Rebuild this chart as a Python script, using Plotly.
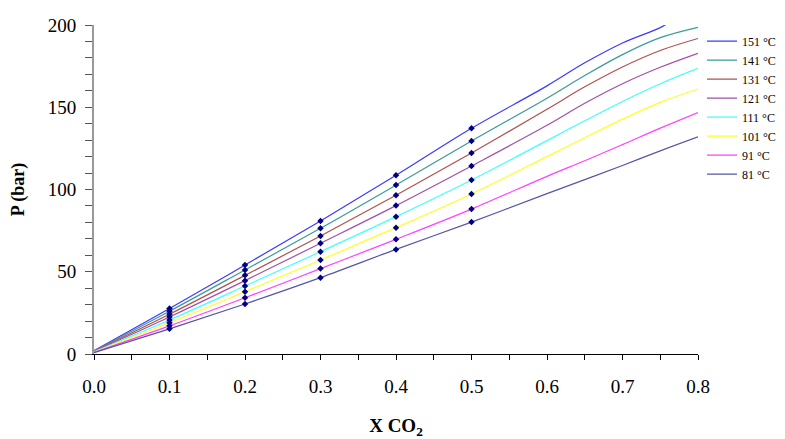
import plotly.graph_objects as go

x_line = [0.0, 0.1, 0.2, 0.3, 0.4, 0.5, 0.6, 0.65, 0.7, 0.75, 0.8]
x_line_151 = [0.0, 0.1, 0.2, 0.3, 0.4, 0.5, 0.6, 0.65, 0.7, 0.75, 0.763]

series_names = ["151 °C", "141 °C", "131 °C", "121 °C", "111 °C", "101 °C", "91 °C", "81 °C"]
series_colors = ["#3a3aff", "#3a9a9a", "#b05050", "#a050a8", "#40ffff", "#ffff20", "#ff40ff", "#5555a5"]

p_151 = [2.0, 27.6, 54.1, 80.9, 108.6, 137.2, 163.0, 177.0, 189.1, 198.4, 202.0]
p_141 = [1.9, 26.0, 51.1, 76.4, 102.7, 129.5, 155.5, 169.3, 182.0, 192.3, 198.6]
p_131 = [1.8, 24.2, 47.8, 71.7, 96.5, 122.2, 148.8, 162.4, 174.5, 184.5, 191.8]
p_121 = [1.6, 22.5, 44.6, 67.3, 90.2, 114.3, 139.0, 152.4, 164.3, 174.3, 182.8]
p_111 = [1.4, 20.7, 41.3, 62.2, 83.5, 105.8, 129.7, 141.8, 153.5, 164.3, 173.6]
p_101 = [1.2, 19.0, 37.9, 57.1, 76.8, 97.3, 120.0, 131.5, 142.8, 153.0, 161.1]
p_91 = [1.0, 17.1, 34.2, 51.9, 69.7, 88.1, 108.0, 117.5, 127.3, 137.3, 146.8]
p_81 = [0.8, 15.3, 30.4, 46.4, 63.6, 80.2, 97.5, 106.0, 114.6, 123.5, 132.0]

x_pts = [0.1, 0.2, 0.3, 0.4, 0.5]

series_values = [p_151, p_141, p_131, p_121, p_111, p_101, p_91, p_81]
series_x = [x_line_151] + [x_line] * 7

fig = go.Figure()
for name, color, xs, ys in zip(series_names, series_colors, series_x, series_values):
    fig.add_trace(go.Scatter(x=xs, y=ys, mode="lines", name=name,
                             line=dict(color=color, width=1.2, shape="spline", smoothing=1.0)))

# measured points (values at x = 0.1 ... 0.5 of each series)
for ys in series_values:
    fig.add_trace(go.Scatter(x=x_pts, y=ys[1:6], mode="markers", showlegend=False,
                             marker=dict(symbol="diamond", size=5, color="#000080"),
                             hoverinfo="skip"))

font_family = "Liberation Serif"
fig.update_layout(
    width=777, height=431,
    margin=dict(l=86, r=87, t=17, b=85, autoexpand=False),
    paper_bgcolor="white", plot_bgcolor="white",
    font=dict(family=font_family, size=19, color="black"),
    showlegend=True,
    legend=dict(x=1.0066, y=0.995, xanchor="left", yanchor="top",
                font=dict(family=font_family, size=12, color="black"),
                bgcolor="rgba(0,0,0,0)", tracegroupgap=0, itemwidth=30),
    xaxis=dict(range=[0, 0.8], dtick=0.1, tick0=0, tickformat=".1f",
               showgrid=False, zeroline=False, showline=True, linecolor="black", linewidth=1,
               ticks="outside", ticklen=5, tickcolor="black",
               minor=dict(dtick=0.05, ticks="outside", ticklen=5, tickcolor="black"),
               ticklabelstandoff=10,
               title=dict(text="<b>X CO<sub>2</sub></b>", font=dict(family=font_family, size=19), standoff=24)),
    yaxis=dict(range=[0, 200], dtick=50, tick0=0,
               showgrid=False, zeroline=False, showline=True, linecolor="#999999", linewidth=2,
               ticks="outside", ticklen=7, tickcolor="#555555",
               minor=dict(dtick=10, ticks="outside", ticklen=7, tickcolor="#555555"),
               ticklabelstandoff=5,
               title=dict(text="<b>P (bar)</b>", font=dict(family=font_family, size=18), standoff=18)),
)

fig.write_html("out.html")
